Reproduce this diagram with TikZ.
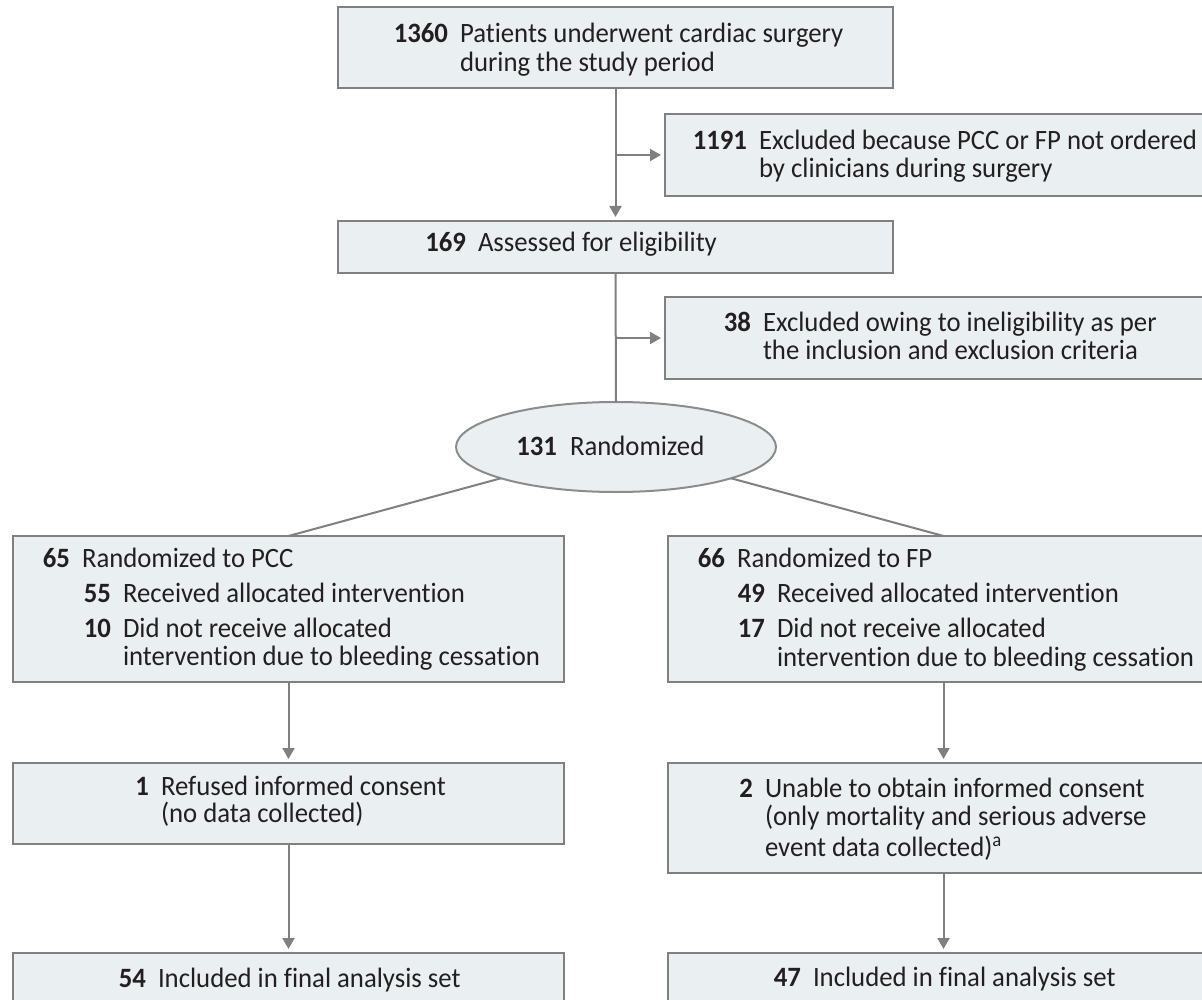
\documentclass[tikz,border=0pt]{standalone}
\usepackage{fontspec}
\setmainfont{Carlito}[FakeStretch=0.955,Ligatures=NoCommon]
\usetikzlibrary{arrows.meta,shapes.geometric}
\definecolor{boxfill}{HTML}{EAEFF2}
\definecolor{boxline}{HTML}{808080}
\definecolor{ovalline}{HTML}{8C8C8C}
\definecolor{ink}{HTML}{231F20}
\newcommand{\tline}[4]{\node[txt] (#1) at (#2,#3) {#4};}
\newcommand{\nline}[4]{\node[num] (#1) at (#2,#3) {#4};}
\begin{document}
\begin{tikzpicture}[x=1pt,y=-1pt,
  box/.style={rectangle, draw=boxline, fill=boxfill, line width=2.6pt, inner sep=0pt, outer sep=0pt, anchor=north west},
  oval/.style={ellipse, draw=ovalline, fill=boxfill, line width=2pt, minimum width=320pt, minimum height=90pt, inner sep=0pt, outer sep=0pt},
  txt/.style={anchor=base west, inner sep=0pt, outer sep=0pt, text=ink, font=\fontsize{28}{34}\selectfont},
  num/.style={anchor=base east, inner sep=0pt, outer sep=0pt, text=ink, font=\fontsize{28}{34}\selectfont\bfseries},
  link/.style={draw=boxline, line width=2pt},
  arr/.style={link, -{Triangle[length=11pt,width=12pt]}, shorten >=4pt}]
\useasboundingbox (0,0) rectangle (1202,1000);
\clip (0,0) rectangle (1202,1000);

% boxes
\node[box, minimum width=555pt, minimum height=81pt] (top) at (338,7) {};
\node[box, minimum width=554pt, minimum height=82pt] (excl1) at (665,114) {};
\node[box, minimum width=555pt, minimum height=52pt] (elig) at (338,221) {};
\node[box, minimum width=554pt, minimum height=82pt] (excl2) at (665,297) {};
\node[oval] (rand) at (616,447) {};
\node[box, minimum width=551pt, minimum height=146pt] (pcc) at (13,536) {};
\node[box, minimum width=551pt, minimum height=146pt] (fp) at (668,536) {};
\node[box, minimum width=551pt, minimum height=81pt] (refused) at (13,763) {};
\node[box, minimum width=551pt, minimum height=110pt] (unable) at (668,763) {};
\node[box, minimum width=551pt, minimum height=70pt] (final1) at (13,953) {};
\node[box, minimum width=551pt, minimum height=70pt] (final2) at (668,953) {};

% connectors
\draw[arr] (top.south) -- (elig.north);
\draw[arr] (top.south |- excl1.west) -- (excl1.west);
\draw[link] (elig.south) -- (rand.north);
\draw[arr] (elig.south |- excl2.west) -- (excl2.west);
\draw[link] (rand) -- (pcc.north);
\draw[link] (rand) -- (fp.north);
\draw[arr] (pcc.south) -- (refused.north);
\draw[arr] (fp.south) -- (unable.north);
\draw[arr] (refused.south) -- (final1.north);
\draw[arr] (unable.south) -- (final2.north);

% texts
\nline{n1360}{448}{43}{1360}
\tline{t1360a}{460}{43}{Patients underwent cardiac surgery}
\tline{t1360b}{460}{72}{during the study period}

\nline{n1191}{747}{150}{1191}
\tline{t1191a}{759}{150}{Excluded because PCC or FP not ordered}
\tline{t1191b}{759}{178}{by clinicians during surgery}

\nline{n169}{466}{252}{169}
\tline{t169}{478}{252}{Assessed for eligibility}

\nline{n38}{751}{331}{38}
\tline{t38a}{763}{331}{Excluded owing to ineligibility as per}
\tline{t38b}{763}{359}{the inclusion and exclusion criteria}

\nline{n131}{557}{455}{131}
\tline{t131}{570}{455}{Randomized}

\nline{n65}{70}{567}{65}
\tline{t65}{82}{567}{Randomized to PCC}
\nline{n55}{111}{602}{55}
\tline{t55}{123}{602}{Received allocated intervention}
\nline{n10}{111}{637}{10}
\tline{t10a}{123}{637}{Did not receive allocated}
\tline{t10b}{123}{665}{intervention due to bleeding cessation}

\nline{n66}{725}{567}{66}
\tline{t66}{737}{567}{Randomized to FP}
\nline{n49}{765}{602}{49}
\tline{t49}{777}{602}{Received allocated intervention}
\nline{n17}{765}{637}{17}
\tline{t17a}{777}{637}{Did not receive allocated}
\tline{t17b}{777}{666}{intervention due to bleeding cessation}

\nline{n1}{149}{795}{1}
\tline{t1a}{161}{795}{Refused informed consent}
\tline{t1b}{161}{822}{(no data collected)}

\nline{n2}{753}{797}{2}
\tline{t2a}{765}{797}{Unable to obtain informed consent}
\tline{t2b}{765}{825}{(only mortality and serious adverse}
\tline{t2c}{765}{856}{event data collected)\textsuperscript{a}}

\nline{n54}{146}{987}{54}
\tline{t54}{158}{987}{Included in final analysis set}
\nline{n47}{801}{986}{47}
\tline{t47}{813}{986}{Included in final analysis set}
\end{tikzpicture}
\end{document}
